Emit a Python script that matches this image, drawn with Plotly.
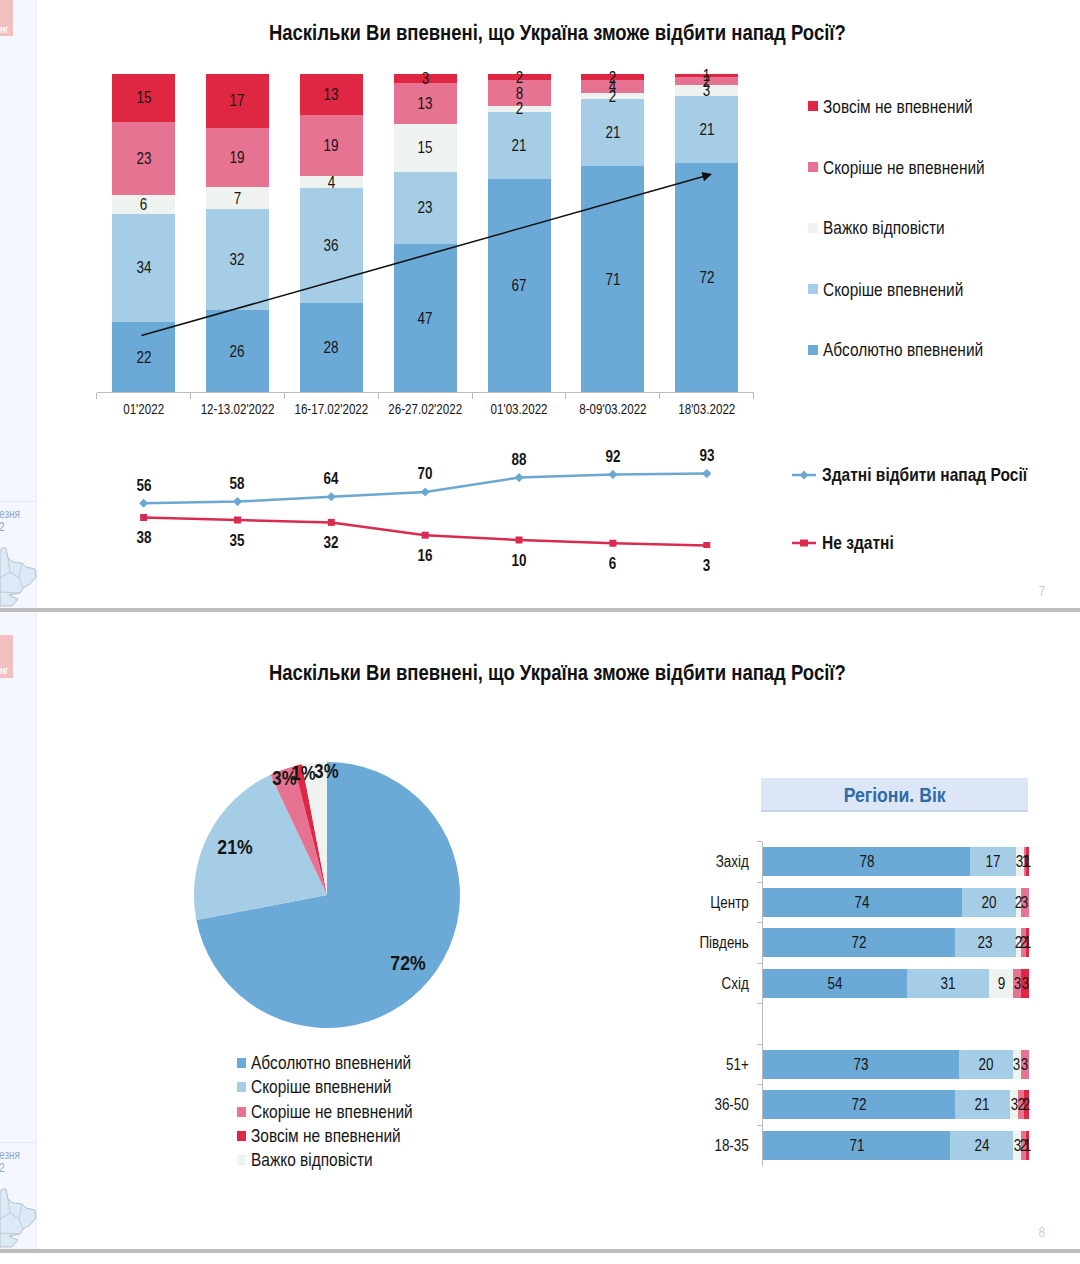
import plotly.graph_objects as go

W, H = 1080, 1264
FONT = "Liberation Sans, Arial, sans-serif"
NARROW = 0.84  # the reference face is a narrow grotesque; none is installed, so real text is condensed to fit
TITLE = "Наскільки Ви впевнені, що Україна зможе відбити напад Росії?"

# ---------- data ----------
wave_labels = ["01'2022", "12-13.02'2022", "16-17.02'2022", "26-27.02'2022", "01'03.2022", "8-09'03.2022", "18'03.2022"]
absolutely_sure = [22, 26, 28, 47, 67, 71, 72]
rather_sure = [34, 32, 36, 23, 21, 21, 21]
hard_to_say = [6, 7, 4, 15, 2, 2, 3.4]
rather_unsure = [23, 19, 19, 13, 8, 4, 2.5]
not_sure = [15, 17, 13, 3, 2, 2, 1]

able_values = [56, 58, 64, 70, 88, 92, 93]
unable_values = [38, 35, 32, 16, 10, 6, 3]

pie_labels = ["Абсолютно впевнений", "Скоріше впевнений", "Скоріше не впевнений", "Зовсім не впевнений", "Важко відповісти"]
pie_values = [72, 21, 3, 1, 3]

group_labels = ["18-35", "36-50", "51+", " ", "Схід", "Південь", "Центр", "Захід"]
group_absolutely = [71, 72, 73, None, 54, 72, 74, 78]
group_rather = [24, 21, 20, None, 31, 23, 20, 17]
group_hard = [3, 3, 3, None, 9, 2, 2, 3]
group_rather_not = [2, 2, 3, None, 3, 2, 3, 1]
group_not = [1, 2, None, None, 3, 1, None, 1]

legend_labels = ["Зовсім не впевнений", "Скоріше не впевнений", "Важко відповісти", "Скоріше впевнений", "Абсолютно впевнений"]
line_names = ["Здатні відбити напад Росії", "Не здатні"]

BLUE, LIGHT, GREY, PINK, RED = "#6BA9D7", "#A5CEE6", "#EFF3F0", "#E57391", "#DF2744"
LINE_BLUE, LINE_RED = "#6AA8D2", "#D92B50"
TXT = "#151515"


def px_x(v):
    return v / W


def px_y(v):
    return 1 - v / H


def midpoints(series):
    """Centre of every stacked segment, on the normalised 0-100 scale."""
    n = len(series[0])
    totals = [sum((s[i] or 0) for s in series) for i in range(n)]
    out = []
    base = [0.0] * n
    for s in series:
        mids = []
        for i in range(n):
            v = s[i] or 0
            share = 100 * v / totals[i] if totals[i] else 0
            mids.append(base[i] + share / 2 if v else None)
            base[i] += share
        out.append(mids)
    return out


fig = go.Figure()
annotations = []
shapes = []

# ---------- top stacked columns ----------
stack = [absolutely_sure, rather_sure, hard_to_say, rather_unsure, not_sure]
colors = [BLUE, LIGHT, GREY, PINK, RED]
names = legend_labels[::-1]
for vals, col, nm in zip(stack, colors, names):
    fig.add_trace(go.Bar(x=wave_labels, y=vals, name=nm, marker=dict(color=col, line=dict(width=0)),
                         xaxis="x", yaxis="y", showlegend=False, hoverinfo="skip"))
for vals, mids in zip(stack, midpoints(stack)):
    for cat, v, m in zip(wave_labels, vals, mids):
        annotations.append(dict(xref="x", yref="y", x=cat, y=m, text=str(round(v)), showarrow=False,
                                font=dict(family=FONT, size=16, color=TXT)))

# ---------- line panel ----------
fig.add_trace(go.Scatter(x=wave_labels, y=able_values, name=line_names[0], mode="lines+markers",
                         line=dict(color=LINE_BLUE, width=2.5), marker=dict(symbol="diamond", size=7, color=LINE_BLUE),
                         xaxis="x2", yaxis="y2", showlegend=False))
fig.add_trace(go.Scatter(x=wave_labels, y=unable_values, name=line_names[1], mode="lines+markers",
                         line=dict(color=LINE_RED, width=2.5), marker=dict(symbol="square", size=7, color=LINE_RED),
                         xaxis="x2", yaxis="y2", showlegend=False))

# ---------- pie ----------
fig.add_trace(go.Pie(labels=pie_labels, values=pie_values, sort=False, direction="clockwise", rotation=0,
                     marker=dict(colors=[BLUE, LIGHT, PINK, RED, GREY], line=dict(width=0)),
                     textinfo="none", showlegend=False, hoverinfo="label+percent",
                     domain=dict(x=[px_x(194), px_x(460)], y=[px_y(1028), px_y(762)])))

# ---------- horizontal stacked bars ----------
gstack = [group_absolutely, group_rather, group_hard, group_rather_not, group_not]
for vals, col, nm in zip(gstack, colors, names):
    fig.add_trace(go.Bar(y=group_labels, x=vals, name=nm, orientation="h", width=0.72,
                         marker=dict(color=col, line=dict(width=0)),
                         xaxis="x3", yaxis="y3", showlegend=False, hoverinfo="skip"))
for vals, mids in zip(gstack, midpoints(gstack)):
    for cat, v, m in zip(group_labels, vals, mids):
        if v:
            annotations.append(dict(xref="x3", yref="y3", x=m, y=cat, text=str(v), showarrow=False,
                                    font=dict(family=FONT, size=16, color=TXT)))


def text(x, y, s, size=16, color=TXT, bold=False, anchor="center"):
    xpos = x - 2 if anchor == "left" else x
    annotations.append(dict(xref="paper", yref="paper", x=px_x(xpos), y=px_y(y - 1), text=f"<b>{s}</b>" if bold else s,
                            showarrow=False, xanchor=anchor, yanchor="middle", align=anchor,
                            font=dict(family=FONT, size=size, color=color)))


def rect(x0, y0, x1, y1, fill, layer="below"):
    shapes.append(dict(type="rect", xref="paper", yref="paper", x0=px_x(x0), x1=px_x(x1), y0=px_y(y0), y1=px_y(y1),
                       fillcolor=fill, line=dict(width=0), layer=layer))


# titles
text(557, 33, TITLE, size=22, bold=True, color="#111111")
text(557, 674, TITLE, size=22, bold=True, color="#111111")

# line value labels
for cat, v in zip(wave_labels, able_values):
    annotations.append(dict(xref="x2", yref="y2", x=cat, y=v, yshift=18, text=f"<b>{v}</b>", showarrow=False,
                            font=dict(family=FONT, size=16, color=TXT)))
for cat, v in zip(wave_labels, unable_values):
    annotations.append(dict(xref="x2", yref="y2", x=cat, y=v, yshift=-20, text=f"<b>{v}</b>", showarrow=False,
                            font=dict(family=FONT, size=16, color=TXT)))

# trend arrow
annotations.append(dict(xref="paper", yref="paper", x=px_x(712), y=px_y(174), ax=-572, ay=162, text="", showarrow=True,
                        arrowhead=2, arrowsize=1.2, arrowwidth=1.6, arrowcolor="#111111"))

# column legend
for lab, col, yy in zip(legend_labels, [RED, PINK, GREY, LIGHT, BLUE], [106, 167, 228, 289, 350]):
    rect(808, yy - 5, 818, yy + 5, col)
    text(823, yy + 1, lab, size=18.4, anchor="left")

# line legend
for lab, col, yy, sym in zip(line_names, [LINE_BLUE, LINE_RED], [475, 543], ["diamond", "square"]):
    shapes.append(dict(type="line", xref="paper", yref="paper", x0=px_x(792), x1=px_x(816), y0=px_y(yy), y1=px_y(yy),
                       line=dict(color=col, width=2.5)))
    if sym == "square":
        rect(800, yy - 3.5, 808, yy + 3.5, col, layer="above")
    else:
        shapes.append(dict(type="path", xref="paper", yref="paper",
                           path=f"M {px_x(804)} {px_y(yy-4.5)} L {px_x(808.5)} {px_y(yy)} L {px_x(804)} {px_y(yy+4.5)} L {px_x(799.5)} {px_y(yy)} Z",
                           fillcolor=col, line=dict(width=0)))
    text(822, yy, lab, size=18.5, bold=True, anchor="left")

# pie labels
for v, (xx, yy), sz in zip(pie_values, [(408, 963), (235, 846), (284, 778), (303, 773), (326, 771)], [21, 21, 20, 20, 20]):
    text(xx, yy + 1, f"{v}%", size=sz, bold=True)

# pie legend
for lab, col, yy in zip(pie_labels, [BLUE, LIGHT, PINK, RED, GREY], [1063, 1087, 1112, 1136, 1160]):
    rect(237, yy - 5, 246, yy + 5, col)
    text(251, yy, lab, size=18.4, anchor="left")

# region header
rect(761, 778, 1028, 810, "#DCE6F6")
rect(761, 810, 1028, 812, "#C3D5EA")
text(895, 795, "Регіони. Вік", size=21, bold=True, color="#2F6BA5")

# slide furniture
for off in (0, 641):
    top = 612 if off else 0
    rect(36, top, 37, 608 + off, "#E9EDF7")
    rect(0, top, 36, 608 + off, "#F5F7FE")
    rect(0, 501 + off, 36, 502 + off, "#E3E8F3")
    rect(0, 608 + off, W, 612 + off, "#BDBDBD", layer="above")
    text(-1, 515 + off, "езня", size=12, color="#8FA8CF", anchor="left")
    text(-1, 528 + off, "2", size=12, color="#8FA8CF", anchor="left")
    outline = [(0, 552), (2, 548), (6, 548), (8, 558), (13, 562), (22, 563), (26, 567), (35, 569), (36, 577), (30, 584),
               (23, 588), (20, 593), (9, 595), (18, 599), (12, 606), (0, 606)]
    path = "M " + " L ".join(f"{px_x(a)} {px_y(b + off)}" for a, b in outline) + " Z"
    shapes.append(dict(type="path", xref="paper", yref="paper", path=path, fillcolor="#DCE9F6",
                       line=dict(color="#A9B4C2", width=0.8), layer="below"))
    for seg in ([(8, 558), (10, 572), (0, 578)], [(22, 563), (19, 578), (23, 588)], [(10, 572), (19, 578)], [(0, 592), (20, 593)]):
        p = "M " + " L ".join(f"{px_x(a)} {px_y(b + off)}" for a, b in seg)
        shapes.append(dict(type="path", xref="paper", yref="paper", path=p, line=dict(color="#B4BECB", width=0.7), layer="below"))
    text(1042, 592 + off, str(7 if off == 0 else 8), size=14, color="#C3CFE0")

rect(0, 0, 13, 36, "#F2C0C0")
rect(0, 635, 13, 678, "#F2C0C0")
text(0, 30, "нг", size=10, color="#FFFFFF", bold=True, anchor="left")
text(0, 671, "нг", size=10, color="#FFFFFF", bold=True, anchor="left")

fig.update_layout(
    width=W, height=H, margin=dict(l=0, r=0, t=0, b=0), paper_bgcolor="white", plot_bgcolor="rgba(0,0,0,0)",
    barmode="stack", barnorm="percent", bargap=0.33, showlegend=False, font=dict(family=FONT, size=16, color=TXT),
    annotations=annotations, shapes=shapes,
    xaxis=dict(domain=[px_x(96.7), px_x(753.7)], type="category", categoryorder="array", categoryarray=wave_labels,
               range=[-0.5, 6.5], tickson="boundaries", ticks="outside", ticklen=6, tickangle=0, tickcolor="#BBBBBB",
               linecolor="#BBBBBB", showline=True, showgrid=False, tickfont=dict(family=FONT, size=13.8, color=TXT),
               anchor="y", ticklabelstandoff=4, fixedrange=True),
    yaxis=dict(domain=[px_y(392), px_y(74)], range=[0, 100], visible=False, anchor="x", fixedrange=True),
    xaxis2=dict(domain=[px_x(96.7), px_x(753.7)], type="category", categoryorder="array", categoryarray=wave_labels,
                range=[-0.5, 6.5], visible=False, anchor="y2", fixedrange=True),
    yaxis2=dict(domain=[px_y(548), px_y(468)], range=[0, 100], visible=False, anchor="x2", fixedrange=True),
    xaxis3=dict(domain=[px_x(763), px_x(1029)], range=[0, 100], visible=False, anchor="y3", fixedrange=True),
    yaxis3=dict(domain=[px_y(1165.5), px_y(841.5)], type="category", categoryorder="array", categoryarray=group_labels,
                range=[-0.5, 7.5], tickson="boundaries", ticks="outside", ticklen=5, tickcolor="#BBBBBB", linecolor="#BBBBBB",
                showline=True, showgrid=False, tickfont=dict(family=FONT, size=16, color=TXT), anchor="x3",
                ticklabelstandoff=10, fixedrange=True),
)

POST = """
document.documentElement.style.overflow = 'hidden';
document.body.style.margin = '0';
document.querySelectorAll('.main-svg text').forEach(function (t) {
  var len = t.getComputedTextLength();
  if (len > 0) {
    t.setAttribute('textLength', len * %s);
    t.setAttribute('lengthAdjust', 'spacingAndGlyphs');
  }
});
""" % NARROW

fig.write_html("out.html", config=dict(displayModeBar=False, responsive=False), post_script=POST)
